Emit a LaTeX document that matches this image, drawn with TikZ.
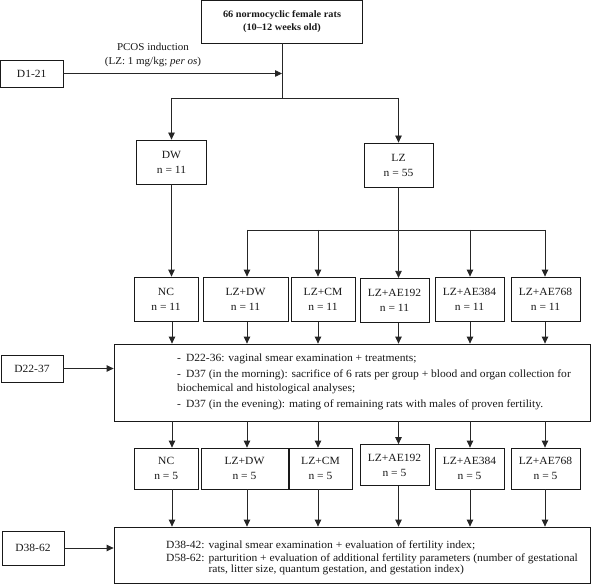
\documentclass[tikz,border=0pt]{standalone}
\usepackage{fontspec}
\setmainfont[FakeStretch=1.05]{Liberation Serif}
\usetikzlibrary{arrows.meta}
\begin{document}
\begin{tikzpicture}[x=1pt,y=-1pt,
  box/.style={draw=black!90, line width=0.8pt, inner sep=0pt, align=center,
    text=black!90, font=\fontsize{11}{15}\selectfont},
  conn/.style={draw=black!85, line width=0.8pt},
  arr/.style={conn, -{Triangle[length=7pt,width=6.5pt]}},
  txt/.style={inner sep=0pt, text=black!90, font=\fontsize{11}{14}\selectfont}
]
\useasboundingbox (0,0) rectangle (591,585);
\fill[white] (0,0) rectangle (591,585);

% top
\node[box, minimum width=161, minimum height=42.5, font=\fontsize{9.8}{13.5}\selectfont\bfseries] (top) at (282,21.75)
  {66 normocyclic female rats\\(10--12 weeks old)};
\node[box, minimum width=62.5, minimum height=27] (d121) at (31.75,73.5) {D1-21};
\node[txt, align=center, font=\fontsize{10.5}{14}\selectfont] (pcos) at (153,55)
  {PCOS induction\\(LZ: 1 mg/kg; \textit{per os})};
\coordinate (split) at (282,98);
\coordinate (sl) at (171.5,98);
\coordinate (sr) at (398.5,98);
\draw[conn] (top.south) -- (split);
\draw[arr] (d121.east) -- (d121.east -| split);
\draw[conn] (sl) -- (sr);

\node[box, minimum width=70, minimum height=44] (dw) at (171.5,162) {DW\\n = 11};
\node[box, minimum width=69, minimum height=44] (lz) at (398.5,165) {LZ\\n = 55};
\draw[arr] (sl) -- (dw.north);
\draw[arr] (sr) -- (lz.north);

% branch from LZ
\coordinate (hb) at (398.5,230);
\coordinate (c1) at (172,230);
\coordinate (c2) at (247,230);
\coordinate (c3) at (318,230);
\coordinate (c4) at (398.5,230);
\coordinate (c5) at (470,230);
\coordinate (c6) at (545,230);
\draw[conn] (lz.south) -- (hb);
\draw[conn] (c2) -- (c6);

% row 1
\node[box, minimum width=64, minimum height=44.5] (nc1) at (166,299.25) {NC\\n = 11};
\node[box, minimum width=85, minimum height=44.5] (dw1) at (245.5,299.25) {LZ+DW\\n = 11};
\node[box, minimum width=64, minimum height=44.5] (cm1) at (323,299.25) {LZ+CM\\n = 11};
\node[box, minimum width=69, minimum height=44.5] (a1921) at (394.5,300.5) {LZ+AE192\\n = 11};
\node[box, minimum width=69, minimum height=44.5] (a3841) at (469.5,299.25) {LZ+AE384\\n = 11};
\node[box, minimum width=69, minimum height=44.5] (a7681) at (545.5,299.25) {LZ+AE768\\n = 11};

\draw[arr] (dw.south) -- (nc1.north -| dw.south);
\draw[arr] (c2) -- (dw1.north -| c2);
\draw[arr] (c3) -- (cm1.north -| c3);
\draw[arr] (hb) -- (a1921.north -| hb);
\draw[arr] (c5) -- (a3841.north -| c5);
\draw[arr] (c6) -- (a7681.north -| c6);

% middle
\node[box, minimum width=476, minimum height=77] (mid) at (352,382.5) {};
\node[box, minimum width=62, minimum height=27] (d2237) at (32,368.5) {D22-37};
\draw[arr] (d2237.east) -- (mid.west |- d2237.east);
\node[txt, anchor=base west] (midtext) at (177,361.5)
  {\begin{tabular}[t]{@{}l@{}}
   -\hspace{5pt}D22-36: vaginal smear examination + treatments;\\[2pt]
   -\hspace{5pt}D37 (in the morning): sacrifice of 6 rats per group + blood and organ collection for\\
   biochemical and histological analyses;\\[2pt]
   -\hspace{5pt}D37 (in the evening): mating of remaining rats with males of proven fertility.
   \end{tabular}};

\draw[arr] (nc1.south -| c1) -- (mid.north -| c1);
\draw[arr] (dw1.south -| c2) -- (mid.north -| c2);
\draw[arr] (cm1.south -| c3) -- (mid.north -| c3);
\draw[arr] (a1921.south -| c4) -- (mid.north -| c4);
\draw[arr] (a3841.south -| c5) -- (mid.north -| c5);
\draw[arr] (a7681.south -| c6) -- (mid.north -| c6);

% row 2
\node[box, minimum width=63.5, minimum height=41] (nc2) at (166.25,468.5) {NC\\n = 5};
\node[box, minimum width=87, minimum height=41] (dw2) at (244.5,468.5) {LZ+DW\\n = 5};
\node[box, minimum width=63, minimum height=41] (cm2) at (320.5,468.5) {LZ+CM\\n = 5};
\node[box, minimum width=69, minimum height=41] (a1922) at (394.5,465) {LZ+AE192\\n = 5};
\node[box, minimum width=69, minimum height=41] (a3842) at (469.5,468.5) {LZ+AE384\\n = 5};
\node[box, minimum width=69, minimum height=41] (a7682) at (545.5,468.5) {LZ+AE768\\n = 5};

\draw[arr] (mid.south -| c1) -- (nc2.north -| c1);
\draw[arr] (mid.south -| c2) -- (dw2.north -| c2);
\draw[arr] (mid.south -| c3) -- (cm2.north -| c3);
\draw[arr] (mid.south -| c4) -- (a1922.north -| c4);
\draw[arr] (mid.south -| c5) -- (a3842.north -| c5);
\draw[arr] (mid.south -| c6) -- (a7682.north -| c6);

% bottom
\node[box, minimum width=476, minimum height=56] (bot) at (352,555) {};
\node[box, minimum width=62, minimum height=34] (d3862) at (33,548) {D38-62};
\draw[arr] (d3862.east) -- (bot.west |- d3862.east);
\node[txt, anchor=base west, font=\fontsize{11}{11}\selectfont] (bottext) at (166,548.5)
  {\begin{tabular}[t]{@{}l@{ }l@{}}
   \multicolumn{2}{@{}l@{}}{D38-42: vaginal smear examination + evaluation of fertility index;}\\[2pt]
   D58-62: & parturition + evaluation of additional fertility parameters (number of gestational\\
   & rats, litter size, quantum gestation, and gestation index)
   \end{tabular}};

\draw[arr] (nc2.south -| c1) -- (bot.north -| c1);
\draw[arr] (dw2.south -| c2) -- (bot.north -| c2);
\draw[arr] (cm2.south -| c3) -- (bot.north -| c3);
\draw[arr] (a1922.south -| c4) -- (bot.north -| c4);
\draw[arr] (a3842.south -| c5) -- (bot.north -| c5);
\draw[arr] (a7682.south -| c6) -- (bot.north -| c6);
\end{tikzpicture}
\end{document}
